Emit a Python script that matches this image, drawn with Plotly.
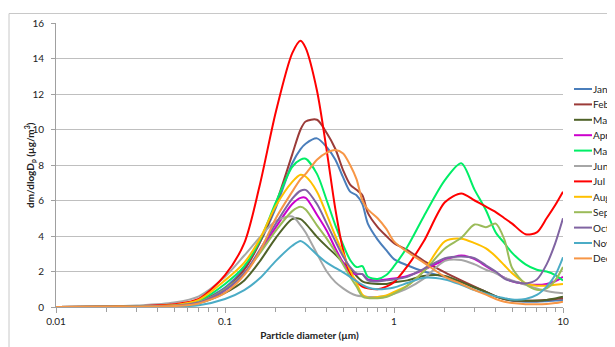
import plotly.graph_objects as go

# Particle diameters (µm)
diameters = [0.01, 0.02, 0.03, 0.05, 0.07, 0.1, 0.13, 0.16, 0.2, 0.25, 0.28, 0.3, 0.35, 0.4, 0.45,
             0.5, 0.55, 0.6, 0.65, 0.7, 0.8, 0.9, 1.0, 1.2, 1.5, 2.0, 2.5, 3.0, 3.5, 4.0, 4.5,
             5.0, 6.0, 7.0, 8.0, 9.0, 10.0]

months = ["Jan", "Feb", "Mar", "Apr", "May", "Jun", "Jul", "Aug", "Sep", "Oct", "Nov", "Dec"]
colors = ["#4A7EBB", "#9B3B38", "#4F6228", "#CC00CC", "#00EE66", "#A6A6A6",
          "#FF0000", "#FFC000", "#9BBB59", "#8064A2", "#4BACC6", "#F79646"]

jan = [0, 0.01, 0.03, 0.08, 0.3, 1.1, 2.2, 3.6, 5.6, 8.1, 8.9, 9.2, 9.5, 9.0, 8.3, 7.3, 6.5, 6.3, 5.8, 4.7,
       3.8, 3.2, 2.7, 2.35, 2.0, 1.7, 1.4, 1.1, 0.85, 0.6, 0.45, 0.35, 0.3, 0.3, 0.33, 0.36, 0.4]
feb = [0, 0.01, 0.03, 0.08, 0.3, 1.0, 2.1, 3.6, 5.8, 8.6, 10.0, 10.45, 10.55, 9.8, 8.9, 7.7, 6.9, 6.6, 6.3, 5.3,
       4.5, 4.0, 3.6, 3.2, 2.6, 1.95, 1.5, 1.15, 0.85, 0.6, 0.45, 0.38, 0.35, 0.35, 0.4, 0.45, 0.5]
mar = [0, 0.01, 0.02, 0.06, 0.22, 0.8, 1.5, 2.55, 3.9, 4.95, 4.95, 4.7, 3.95, 3.4, 2.95, 2.5, 2.18, 1.75, 1.45, 1.35,
       1.3, 1.3, 1.4, 1.5, 1.75, 1.75, 1.4, 1.1, 0.85, 0.6, 0.45, 0.38, 0.35, 0.36, 0.4, 0.48, 0.58]
apr = [0, 0.01, 0.02, 0.07, 0.25, 0.95, 1.9, 3.1, 4.5, 5.8, 6.15, 6.15, 5.2, 4.3, 3.3, 2.5, 1.95, 1.85, 1.85, 1.55,
       1.5, 1.55, 1.6, 1.75, 2.1, 2.65, 2.9, 2.7, 2.3, 1.95, 1.65, 1.45, 1.3, 1.25, 1.3, 1.45, 1.7]
may = [0, 0.01, 0.04, 0.1, 0.35, 1.3, 2.3, 3.7, 5.9, 7.9, 8.3, 8.35, 7.5, 6.0, 4.6, 3.5, 2.65, 2.25, 2.3, 1.7,
       1.58, 1.8, 2.3, 3.4, 5.1, 7.15, 8.1, 6.6, 5.45, 4.2, 3.6, 3.05, 2.4, 2.1, 2.0, 1.8, 1.5]
jun = [0, 0.02, 0.08, 0.25, 0.6, 1.7, 2.9, 3.9, 4.85, 5.1, 4.6, 4.2, 3.0, 2.0, 1.4, 1.05, 0.8, 0.65, 0.6, 0.57,
       0.57, 0.62, 0.75, 1.05, 1.6, 2.6, 2.65, 2.4, 2.1, 1.9, 1.65, 1.5, 1.25, 1.05, 0.9, 0.82, 0.77]
jul = [0, 0.02, 0.05, 0.15, 0.45, 1.8, 3.6, 6.8, 11.0, 14.3, 15.0, 14.6, 12.2, 8.8, 5.5, 3.2, 1.9, 1.45, 1.15, 1.05,
       1.0, 1.15, 1.4, 2.3, 3.7, 5.9, 6.4, 6.0, 5.65, 5.35, 5.0, 4.7, 4.1, 4.2, 5.0, 5.75, 6.5]
aug = [0, 0.01, 0.04, 0.1, 0.4, 1.5, 2.5, 3.8, 5.7, 7.05, 7.45, 7.35, 6.5, 5.2, 4.0, 3.0, 2.08, 1.35, 0.7, 0.52,
       0.56, 0.65, 0.85, 1.2, 2.05, 3.7, 3.85, 3.6, 3.3, 2.85, 2.35, 1.9, 1.35, 1.2, 1.2, 1.25, 1.3]
sep = [0, 0.01, 0.03, 0.08, 0.28, 1.0, 1.9, 3.0, 4.3, 5.4, 5.65, 5.5, 4.6, 3.85, 3.1, 2.4, 1.7, 1.15, 0.6, 0.5,
       0.5, 0.56, 0.75, 1.2, 2.0, 3.3, 3.9, 4.65, 4.5, 4.7, 3.8, 2.2, 1.3, 0.97, 1.05, 1.5, 2.25]
oct_ = [0, 0.01, 0.03, 0.07, 0.25, 0.95, 1.9, 3.2, 4.7, 6.1, 6.55, 6.6, 5.8, 4.7, 3.7, 2.85, 2.25, 1.9, 1.85, 1.5,
        1.43, 1.5, 1.55, 1.7, 2.15, 2.75, 2.85, 2.75, 2.35, 2.0, 1.6, 1.45, 1.33, 1.55, 2.4, 3.6, 5.0]
nov = [0, 0.0, 0.01, 0.03, 0.1, 0.45, 0.95, 1.6, 2.6, 3.45, 3.72, 3.55, 2.95, 2.5, 2.2, 1.95, 1.7, 1.45, 1.25, 1.1,
       1.0, 1.03, 1.1, 1.35, 1.65, 1.55, 1.25, 0.95, 0.75, 0.6, 0.5, 0.42, 0.45, 0.68, 1.15, 1.8, 2.8]
dec = [0, 0.01, 0.02, 0.05, 0.2, 0.8, 1.8, 3.1, 5.0, 6.5, 7.2, 7.5, 8.3, 8.7, 8.85, 8.65, 8.0, 7.2, 6.0, 5.5,
       5.0, 4.4, 3.7, 3.1, 2.5, 1.7, 1.3, 0.95, 0.7, 0.45, 0.3, 0.22, 0.16, 0.15, 0.17, 0.22, 0.3]

series = [jan, feb, mar, apr, may, jun, jul, aug, sep, oct_, nov, dec]

y_ticks = [0, 2, 4, 6, 8, 10, 12, 14, 16]
x_ticks = [0.01, 0.1, 1, 10]
x_tick_labels = ["0.01", "0.1", "1", "10"]

# the page body has an 8px margin, so the figure starts 8px in from the window corner
OFF = 8
W, H = 615 - OFF, 347 - OFF
PL, PR, PT, PB = 56, 563, 23, 307          # plot-area edges in window pixels
L, R, T, B = PL - OFF, W - (PR - OFF), PT - OFF, H - (PB - OFF)
pw, ph = W - L - R, H - T - B


def xp(px):
    return (px - PL) / pw


def yp(py):
    return (PB - py) / ph


FONT = "Lato, 'Liberation Sans', sans-serif"

fig = go.Figure()
for name, col, vals in zip(months, colors, series):
    fig.add_trace(go.Scatter(x=diameters, y=vals, mode="lines", name=name,
                             line=dict(color=col, width=2, shape="spline", smoothing=0.8),
                             showlegend=False))

shapes = []
annotations = []
# chart-area frame
shapes.append(dict(type="rect", xref="paper", yref="paper", x0=xp(9), x1=xp(640),
                   y0=yp(370), y1=yp(13.5), line=dict(color="#C8C8C8", width=1)))
# legend (drawn as a key: short line + label), pulled in so the labels stay readable
LEG_X = 574
for i, (name, col) in enumerate(zip(months, colors)):
    ypix = 89 + 15.4 * i
    shapes.append(dict(type="line", xref="paper", yref="paper", x0=xp(LEG_X), x1=xp(LEG_X + 18),
                       y0=yp(ypix), y1=yp(ypix), line=dict(color=col, width=2)))
    annotations.append(dict(xref="paper", yref="paper", x=xp(LEG_X + 18), y=yp(ypix), text=name,
                            showarrow=False, xanchor="left", yanchor="middle", borderpad=0,
                            font=dict(family=FONT, size=10, color="#222")))
# y-axis title
annotations.append(dict(xref="paper", yref="paper", x=xp(30), y=yp(165), textangle=-90,
                        text="<b>dm/dlogD<sub>p</sub> (µg/m<sup>3</sup>)</b>", showarrow=False,
                        xanchor="center", yanchor="middle",
                        font=dict(family=FONT, size=10, color="#222")))

fig.update_layout(
    width=W, height=H,
    margin=dict(l=L, r=R, t=T, b=B, autoexpand=False),
    paper_bgcolor="white", plot_bgcolor="white",
    font=dict(family=FONT, size=10, color="#222"),
    shapes=shapes, annotations=annotations,
    showlegend=False,
)
fig.update_xaxes(
    type="log", range=[-2, 1], tickvals=x_ticks, ticktext=x_tick_labels,
    showgrid=False, showline=True, linecolor="#A0A0A0", linewidth=1,
    ticks="outside", ticklen=5, tickcolor="#A0A0A0",
    minor=dict(ticks="outside", ticklen=4, tickcolor="#A0A0A0", dtick="D1", showgrid=False),
    tickfont=dict(size=10, color="#222"),
    title=dict(text="<b>Particle diameter (µm)</b>", font=dict(size=10, color="#222"), standoff=5),
)
fig.update_yaxes(
    range=[0, 16], tickvals=y_ticks,
    showgrid=True, gridcolor="#BFBFBF", gridwidth=1,
    showline=True, linecolor="#A0A0A0", linewidth=1,
    ticks="outside", ticklen=4, tickcolor="#A0A0A0", ticklabelstandoff=5,
    tickfont=dict(size=10, color="#222"), zeroline=False,
)

fig.write_html("out.html")
